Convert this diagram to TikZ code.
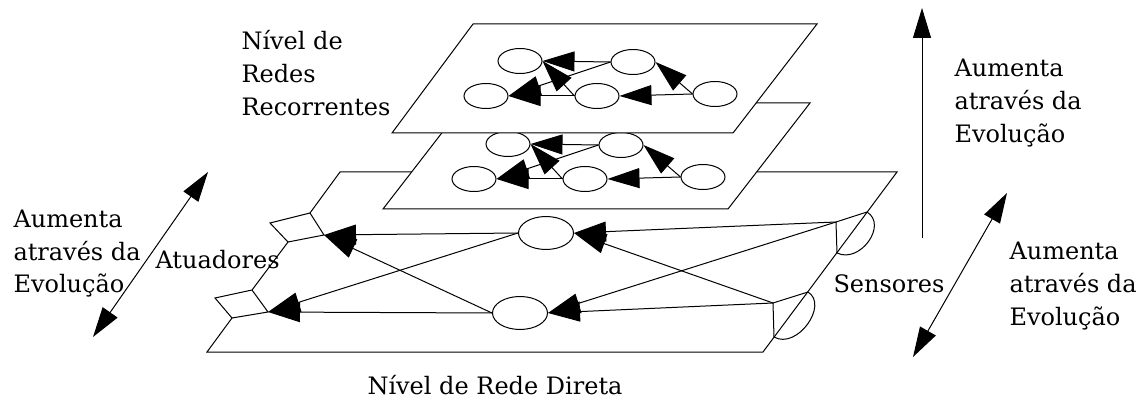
\documentclass[tikz,border=0pt]{standalone}
\usepackage{fontspec}
\setmainfont{DejaVu Serif}
\usetikzlibrary{arrows.meta,shapes.geometric}

% left-aligned block whose baseline is that of its first line
\newcommand{\stackedtext}[1]{\begin{tabular}[t]{@{}l@{}}#1\end{tabular}}

\tikzset{
  rnode/.style={ellipse, draw, fill=white, minimum width=44pt, minimum height=25pt, inner sep=0pt},
  fnode/.style={ellipse, draw, fill=white, minimum width=55pt, minimum height=33pt, inner sep=0pt},
  link/.style={-{Triangle[length=32pt,width=20pt]}},
  evo/.style={-{Triangle[length=30pt,width=18pt]}},
  twoway/.style={{Triangle[length=30pt,width=18pt]}-{Triangle[length=30pt,width=18pt]}},
  plane/.style={draw, fill=white},
  txt/.style={anchor=base west, inner sep=0pt, font=\fontsize{24}{33}\selectfont},
}

% one recurrent network: five units and their links
\newcommand{\recnet}[1]{%
  \node[rnode] (#1a) at (520,61) {};
  \node[rnode] (#1b) at (633,62) {};
  \node[rnode] (#1c) at (486,96) {};
  \node[rnode] (#1d) at (597,96) {};
  \node[rnode] (#1e) at (715,94) {};
  \draw[link] (#1b.west) -- (#1a.east);
  \draw[link] (#1d.west) -- (#1a.east);
  \draw[link] (#1b.west) -- (#1c.east);
  \draw[link] (#1d.west) -- (#1c.east);
  \draw[link] (#1e.west) -- (#1b.east);
  \draw[link] (#1e.west) -- (#1d.east);
}

\begin{document}
\begin{tikzpicture}[x=1pt, y=-1pt, line width=1pt]
\useasboundingbox (0,0) rectangle (1136,401);

% ---- feed-forward level (bottom plane) ----
\coordinate (fTL) at (340,172);
\coordinate (fTR) at (897,172);
\coordinate (fBR) at (763,352);
\coordinate (fBL) at (207,352);
% actuator notches on the left edge
\coordinate (a1T) at (310,213);
\coordinate (a1L) at (270,223);
\coordinate (a1B) at (288,242);
\coordinate (A1)  at (324,235);
\coordinate (a2T) at (252,290);
\coordinate (a2L) at (215,298);
\coordinate (a2B) at (232,318);
\coordinate (A2)  at (268,312);
% sensors on the right edge
\coordinate (S1)  at (836,222);
\coordinate (s1T) at (867,212);
\coordinate (s1B) at (837,253);
\coordinate (S2)  at (773,303);
\coordinate (s2T) at (808,292);
\coordinate (s2B) at (774,337);

\draw (fTL) -- (fTR) -- (fBR) -- (fBL) -- (a2B) -- (a2L) -- (a2T)
      -- (a1B) -- (a1L) -- (a1T) -- cycle;
\draw (a1T) -- (A1) -- (a1B);
\draw (a2T) -- (A2) -- (a2B);

\draw (S1) -- (s1T);
\draw (S1) -- (s1B);
\draw (s1T) .. controls (888,225) and (860,264) .. (s1B);
\draw (S2) -- (s2T);
\draw (S2) -- (s2B);
\draw (s2T) .. controls (829,305) and (797,350) .. (s2B);

\node[fnode] (E1) at (546,233) {};
\node[fnode] (E2) at (520,313) {};

\draw[link] (S1) -- (E1.east);
\draw[link] (S2) -- (E1.east);
\draw[link] (S2) -- (E2.east);
\draw[link] (S1) -- (E2.east);
\draw[link] (E1.west) -- (A1);
\draw[link] (E2.west) -- (A1);
\draw[link] (E2.west) -- (A2);
\draw[link] (E1.west) -- (A2);

% ---- middle recurrent level ----
\coordinate (mTL) at (465,103);
\coordinate (mTR) at (810,103);
\coordinate (mBR) at (728,209);
\coordinate (mBL) at (383,209);
\draw[plane] (mTL) -- (mTR) -- (mBR) -- (mBL) -- cycle;
\begin{scope}[shift={(-12,83)}]
  \recnet{m}
\end{scope}

% ---- top recurrent level ----
\coordinate (tTL) at (473,24);
\coordinate (tTR) at (817,24);
\coordinate (tBR) at (733,133);
\coordinate (tBL) at (392,133);
\draw[plane] (tTL) -- (tTR) -- (tBR) -- (tBL) -- cycle;
\recnet{t}

% ---- evolution arrows ----
\coordinate (vB) at (922,238);
\coordinate (vT) at (922,8);
\draw[evo] (vB) -- (vT);
\coordinate (lB) at (93,337);
\coordinate (lT) at (208,172);
\draw[twoway] (lB) -- (lT);
\coordinate (rB) at (913,357);
\coordinate (rT) at (1007,193);
\draw[twoway] (rB) -- (rT);

% ---- labels ----
\node[txt] (recLbl) at (241,50) {\stackedtext{Nível de\\Redes\\Recorrentes}};
\node[txt] (evoUp) at (954,77) {\stackedtext{Aumenta\\através da\\Evolução}};
\node[txt] (evoLeft) at (13,227) {\stackedtext{Aumenta\\através da\\Evolução}};
\node[txt] (evoRight) at (1009,259) {\stackedtext{Aumenta\\através da\\Evolução}};
\node[txt] (actLbl) at (155,268) {Atuadores};
\node[txt] (senLbl) at (833,292) {Sensores};
\node[txt] (ffLbl) at (367,394) {Nível de Rede Direta};
\end{tikzpicture}
\end{document}
